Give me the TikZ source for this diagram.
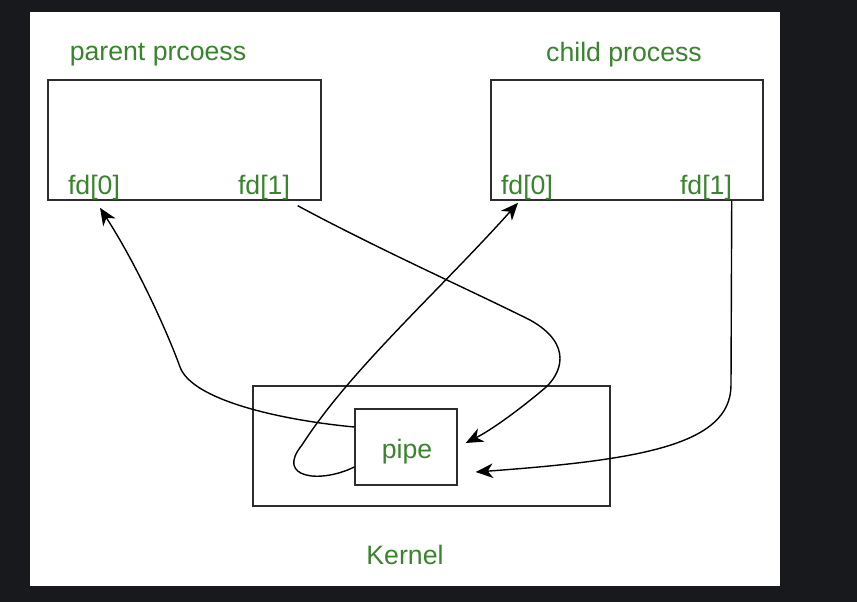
\documentclass[tikz,border=0pt]{standalone}
\usepackage{fontspec}
\setmainfont{Liberation Sans}
\usetikzlibrary{arrows.meta,calc}
\definecolor{bgdark}{RGB}{24,25,29}
\definecolor{txtgreen}{RGB}{58,132,46}
\definecolor{boxgray}{RGB}{45,45,45}
\tikzset{
  box/.style={draw=boxgray, line width=1.1pt, fill=none, inner sep=0pt},
  lbl/.style={text=txtgreen, inner sep=0pt, font=\fontsize{20pt}{24pt}\selectfont},
  conn/.style={draw=black, line width=1.05pt, -{Stealth[length=13pt,width=11pt,inset=4pt]}},
}
\begin{document}
\begin{tikzpicture}[x=0.75pt,y=-0.75pt]
\useasboundingbox (0,0) rectangle (857,602);
\fill[bgdark] (0,0) rectangle (857,602);
\fill[white] (30,12) rectangle (780,586);

\node[box, minimum width=204.75pt, minimum height=90pt] (parent) at (184.5,140) {};
\node[box, minimum width=204pt, minimum height=90pt] (child) at (627,140) {};
\node[box, minimum width=267.75pt, minimum height=90pt] (kernel) at (431.5,446) {};
\node[box, minimum width=76.5pt, minimum height=57pt] (pipe) at (406,447) {};

\node[lbl, anchor=base] (ptitle) at (158,61) {parent prcoess};
\node[lbl, anchor=base] (ctitle) at (624,62) {child process};
\node[lbl, anchor=base] (pfd0) at (94,195) {fd[0]};
\node[lbl, anchor=base] (pfd1) at (264,195) {fd[1]};
\node[lbl, anchor=base] (cfd0) at (527,195) {fd[0]};
\node[lbl, anchor=base] (cfd1) at (706,195) {fd[1]};
\node[lbl, anchor=base] (pipelbl) at (407,458) {pipe};
\node[lbl, anchor=base] (klbl) at (405,564) {Kernel};

% pipe -> parent fd[0]
\draw[conn] ([shift={(0,-20)}]pipe.west) .. controls (280,420) and (192,400) .. (180,367)
  .. controls (170,339) and (140,270) .. ([shift={(6,7)}]pfd0.south);
% parent fd[1] -> pipe
\draw[conn] ([shift={(-24,5)}]parent.south east) .. controls (380,250) and (470,290) .. (530,320)
  .. controls (575,345) and (560,375) .. (545,388)
  .. controls (525,405) and (495,428) .. ([shift={(8,-4)}]pipe.east);
% pipe -> child fd[0]
\draw[conn] ([shift={(0,20)}]pipe.west) .. controls (320,484) and (275,478) .. (302,445)
  .. controls (350,370) and (440,290) .. ([shift={(-9,2)}]cfd0.south);
% child fd[1] -> pipe
\draw[conn] ([shift={(-32,0)}]child.south east) -- (731,385)
  .. controls (731,445) and (640,460) .. ([shift={(18,25)}]pipe.east);
\end{tikzpicture}
\end{document}
